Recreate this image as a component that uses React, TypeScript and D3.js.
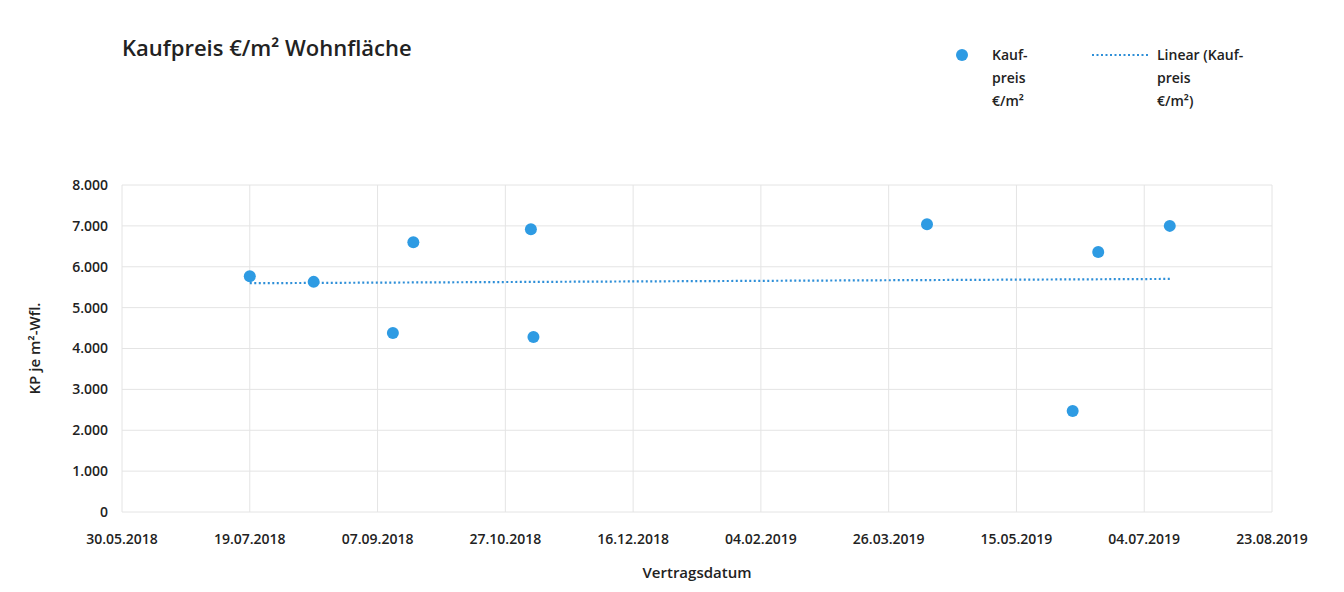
import React, { useEffect, useRef } from 'react';
import * as d3 from 'd3';

const dates = ['2018-07-19', '2018-08-13', '2018-09-13', '2018-09-21', '2018-11-06', '2018-11-07', '2019-04-10', '2019-06-06', '2019-06-16', '2019-07-14'];
const prices = [5770, 5630, 4380, 6600, 6920, 4280, 7040, 2470, 6360, 7000];
const xTickLabels = ['30.05.2018', '19.07.2018', '07.09.2018', '27.10.2018', '16.12.2018', '04.02.2019', '26.03.2019', '15.05.2019', '04.07.2019', '23.08.2019'];
const yTicks = [0, 1000, 2000, 3000, 4000, 5000, 6000, 7000, 8000];

const parseDE = (s: string) => {
  const [d, m, y] = s.split('.').map(Number);
  return new Date(Date.UTC(y, m - 1, d));
};

const App: React.FC = () => {
  const svgRef = useRef<SVGSVGElement | null>(null);
  const width = 1344;
  const height = 592;
  const margin = { top: 185, right: 72, bottom: 80, left: 122 };

  useEffect(() => {
    const svg = d3.select(svgRef.current);
    svg.selectAll('*').remove();
    const font = 'Open Sans, sans-serif';
    const tickDates = xTickLabels.map(parseDE);
    const pts = dates.map((d, i) => ({ x: new Date(d + 'T00:00:00Z'), y: prices[i] }));

    const x = d3.scaleUtc().domain([tickDates[0], tickDates[tickDates.length - 1]]).range([margin.left, width - margin.right]);
    const y = d3.scaleLinear().domain([0, 8000]).range([height - margin.bottom, margin.top]);

    const g = svg.append('g');
    g.selectAll('.hg').data(yTicks).join('line')
      .attr('x1', margin.left).attr('x2', width - margin.right)
      .attr('y1', (d) => y(d)).attr('y2', (d) => y(d))
      .attr('stroke', '#e4e4e4').attr('stroke-width', 1);
    g.selectAll('.vg').data(tickDates).join('line')
      .attr('x1', (d) => x(d)).attr('x2', (d) => x(d))
      .attr('y1', y(0)).attr('y2', y(8000))
      .attr('stroke', '#e4e4e4').attr('stroke-width', 1);

    const fmt = d3.format(',');
    g.selectAll('.yl').data(yTicks).join('text')
      .attr('x', margin.left - 14).attr('y', (d) => y(d)).attr('dy', '0.35em')
      .attr('text-anchor', 'end').attr('font-family', font).attr('font-size', 14).attr('font-weight', 600)
      .attr('fill', '#222').text((d) => fmt(d).replace(/,/g, '.'));
    g.selectAll('.xl').data(tickDates).join('text')
      .attr('x', (d) => x(d)).attr('y', y(0) + 32)
      .attr('text-anchor', 'middle').attr('font-family', font).attr('font-size', 14).attr('font-weight', 600)
      .attr('fill', '#222').text((d, i) => xTickLabels[i]);

    // linear trend
    const xs = pts.map((p) => +p.x);
    const reg = d3.least([0]) !== undefined ? (() => {
      const mx = d3.mean(xs)!;
      const my = d3.mean(prices)!;
      const b = d3.sum(xs, (v, i) => (v - mx) * (prices[i] - my)) / d3.sum(xs, (v) => (v - mx) ** 2);
      return (v: number) => my + b * (v - mx);
    })() : (v: number) => v;
    const x0 = d3.min(xs)!;
    const x1 = d3.max(xs)!;
    g.append('line')
      .attr('x1', x(new Date(x0))).attr('x2', x(new Date(x1)))
      .attr('y1', y(reg(x0))).attr('y2', y(reg(x1)))
      .attr('stroke', '#2e8fd8').attr('stroke-width', 2.2).attr('stroke-dasharray', '2 2.5');

    g.selectAll('.pt').data(pts).join('circle')
      .attr('cx', (d) => x(d.x)).attr('cy', (d) => y(d.y)).attr('r', 6)
      .attr('fill', '#2e9be3');

    svg.append('text').attr('x', 122).attr('y', 56).attr('font-family', font)
      .attr('font-size', 22).attr('font-weight', 600).attr('fill', '#222').text('Kaufpreis €/m² Wohnfläche');

    svg.append('text').attr('transform', `translate(40,${(y(0) + y(8000)) / 2}) rotate(-90)`)
      .attr('text-anchor', 'middle').attr('font-family', font).attr('font-size', 15).attr('font-weight', 600)
      .attr('fill', '#222').text('KP je m²-Wfl.');
    svg.append('text').attr('x', (margin.left + width - margin.right) / 2).attr('y', 578)
      .attr('text-anchor', 'middle').attr('font-family', font).attr('font-size', 15).attr('font-weight', 600)
      .attr('fill', '#222').text('Vertragsdatum');

    // legend
    svg.append('circle').attr('cx', 962).attr('cy', 55).attr('r', 6).attr('fill', '#2e9be3');
    ['Kauf-', 'preis', '€/m²'].forEach((t, i) => {
      svg.append('text').attr('x', 992).attr('y', 60 + i * 23).attr('font-family', font)
        .attr('font-size', 14).attr('font-weight', 600).attr('fill', '#222').text(t);
    });
    svg.append('line').attr('x1', 1092).attr('x2', 1150).attr('y1', 55).attr('y2', 55)
      .attr('stroke', '#2e8fd8').attr('stroke-width', 2.2).attr('stroke-dasharray', '2 2.5');
    ['Linear (Kauf-', 'preis', '€/m²)'].forEach((t, i) => {
      svg.append('text').attr('x', 1157).attr('y', 60 + i * 23).attr('font-family', font)
        .attr('font-size', 14).attr('font-weight', 600).attr('fill', '#222').text(t);
    });
  }, []);

  return (
    <svg ref={svgRef} width={width} height={height}
      style={{ position: 'absolute', left: 0, top: 0, background: '#fff' }} />
  );
};

export default App;
